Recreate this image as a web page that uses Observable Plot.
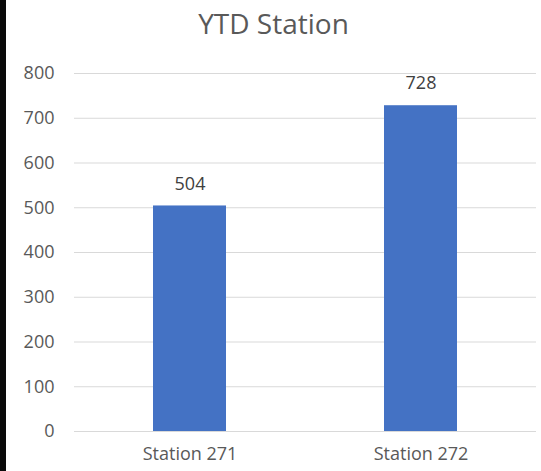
<!DOCTYPE html>
<html>
<head>
<meta charset="utf-8">
<script src="https://cdn.jsdelivr.net/npm/d3@7"></script>
<script src="https://cdn.jsdelivr.net/npm/@observablehq/plot@0.6"></script>
<style>
  html, body { margin: 0; padding: 0; background: #fff; }
  #wrap { width: 535px; height: 471px; border-left: 6px solid #0a0a0a; background: #fff; overflow: hidden; }
  #title { height: 41px; padding-top: 9px; line-height: 28px; font-size: 28px; font-weight: 500; font-family: 'Open Sans', sans-serif; color: #595959; text-align: center; }
</style>
</head>
<body>
<div id="wrap">
  <div id="title">YTD Station</div>
  <div id="chart"></div>
</div>
<script>
const categories = ["Station 271", "Station 272"];
const values = [504, 728];
const yTicks = [0, 100, 200, 300, 400, 500, 600, 700, 800];

const data = categories.map((c, i) => ({station: c, value: values[i]}));

const chart = Plot.plot({
  width: 535,
  height: 421,
  marginTop: 23,
  marginBottom: 40,
  marginLeft: 68,
  marginRight: 5,
  style: {fontFamily: "'Open Sans', sans-serif", fontSize: "18px", color: "#595959", background: "white", overflow: "visible"},
  x: {domain: categories, paddingInner: 0.684, paddingOuter: 0.342, label: null},
  y: {domain: [0, 800], ticks: yTicks, label: null},
  marks: [
    Plot.gridY(yTicks, {stroke: "#d9d9d9", strokeOpacity: 1}),
    Plot.barY(data, {x: "station", y: "value", fill: "#4472C4"}),
    Plot.text(data, {x: "station", y: "value", text: d => String(d.value), dy: -22, fill: "#404040", fontSize: 18}),
    Plot.axisY(yTicks, {tickSize: 0, tickPadding: 20, label: null}),
    Plot.axisX({tickSize: 0, tickPadding: 16, label: null})
  ]
});
document.getElementById("chart").appendChild(chart);
</script>
</body>
</html>
